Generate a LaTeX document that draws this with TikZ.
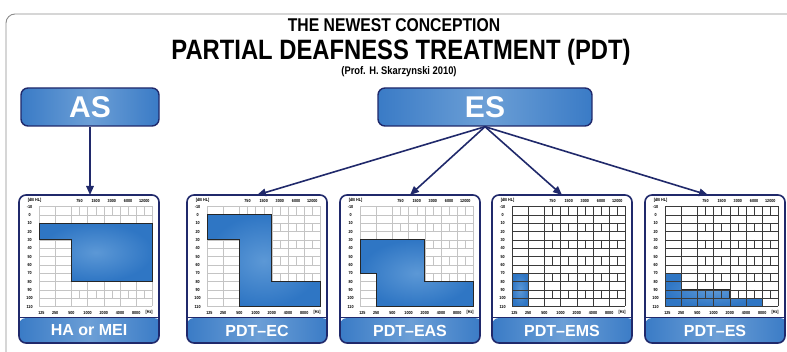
\documentclass[tikz,border=0pt]{standalone}
\usepackage{fontspec}
\setmainfont{Liberation Sans}
\newfontfamily\narrowfont[FakeStretch=0.85]{Liberation Sans}
\usetikzlibrary{arrows.meta}
\definecolor{navy}{HTML}{20296B}
\definecolor{bluedark}{HTML}{3A7BC6}
\definecolor{bluelight}{HTML}{6C9FD6}
\definecolor{filldark}{HTML}{2F76C4}
\definecolor{filllight}{HTML}{5C98D6}
\definecolor{framec}{HTML}{8C8C8C}
\definecolor{gridlight}{HTML}{C4C4C4}
\definecolor{griddark}{HTML}{3A3A3A}
\tikzset{
  topbox/.style={draw=navy, line width=1.4pt, rounded corners=7pt,
    left color=bluedark, right color=bluedark, middle color=bluelight,
    minimum height=38pt, text=white, inner sep=0pt,
    font=\bfseries\fontsize{30}{30}\selectfont},
  panel/.style={draw=navy, line width=1.6pt, rounded corners=7pt, fill=white,
    minimum width=140pt, minimum height=148pt, inner sep=0pt, outer sep=0pt,
    path picture={
      \shade[left color=bluedark, right color=bluedark, middle color=bluelight]
        ([yshift=-2pt]path picture bounding box.south west) rectangle
        ([yshift=25pt,xshift=2pt]path picture bounding box.south east);
      \draw[navy, line width=1pt]
        ([yshift=25pt]path picture bounding box.south west) --
        ([yshift=25pt]path picture bounding box.south east);
    }},
  bandlab/.style={text=white, inner sep=0pt, font=\bfseries\fontsize{16}{16}\selectfont},
  titlefont/.style={anchor=base, inner sep=0pt, font=\narrowfont\bfseries\fontsize{#1}{#1}\selectfont},
  alab/.style={inner sep=0pt, font=\narrowfont\bfseries\fontsize{4.4}{5}\selectfont},
  afill/.style={draw=black!85, line width=0.8pt, inner color=filllight, outer color=filldark},
  lightgrid/.style={gridlight, line width=0.4pt},
  darkgrid/.style={griddark, line width=0.5pt},
  conn/.style={navy, line width=1.6pt, -{Triangle[length=9pt,width=7.5pt]}}
}
\newcommand{\agrid}[1]{%
  \foreach \d in {-10,0,...,110} \draw[#1] (0,\d) -- (7,\d);
  \foreach \o in {0,...,7} \draw[#1] (\o,-10) -- (\o,110);
  \foreach \d in {-10,10,...,90} \foreach \o in {2.5,3.5,...,6.5} \draw[#1] (\o,\d) -- (\o,\d+10);
}
\newcommand{\alabels}[1]{%
  \foreach \d [count=\i] in {-10,0,...,110} \node[alab] (#1y\i) at (-0.58,\d) {\d};
  \node[alab] (#1unit) at (-0.27,-17.2) {[dB HL]};
  \foreach \o/\t [count=\i] in {2.5/750,3.5/1500,4.5/3000,5.5/6000,6.5/12000}
    \node[alab] (#1t\i) at (\o,-17.2) {\t};
  \foreach \o/\t [count=\i] in {0.15/125,1/250,2/500,3/1000,4/2000,5/4000,6/8000,6.8/{[Hz]}}
    \node[alab] (#1b\i) at (\o,117.4) {\t};
}
\begin{document}
\begin{tikzpicture}[x=1pt,y=-1pt]
\useasboundingbox (0,0) rectangle (787,352);
\fill[white] (0,0) rectangle (787,352);
\begin{scope}
  \clip (0,0) rectangle (787,352);
  \draw[framec, line width=0.9pt, rounded corners=9pt] (6,14) rectangle (840,420);
\end{scope}

% titles
\node[titlefont=18.5] (t1) at (394,32) {THE NEWEST CONCEPTION};
\node[titlefont=28] (t2) at (401,59.5) {PARTIAL DEAFNESS TREATMENT (PDT)};
\node[titlefont=11] (t3) at (399,74.5) {(Prof. H. Skarzynski 2010)};

% top boxes
\node[topbox, minimum width=138pt] (AS) at (90,107) {AS};
\node[topbox, minimum width=214pt] (ES) at (485,107) {ES};

% panels
\node[panel] (p1) at (89,269) {};
\node[panel] (p2) at (257,269) {};
\node[panel] (p3) at (410,269) {};
\node[panel] (p4) at (562,269) {};
\node[panel] (p5) at (715,269) {};

\node[bandlab] (b1) at (89,330.5) {HA or MEI};
\node[bandlab] (b2) at (257,330.5) {PDT–EC};
\node[bandlab] (b3) at (410,330.5) {PDT–EAS};
\node[bandlab] (b4) at (562,330.5) {PDT–EMS};
\node[bandlab] (b5) at (715,330.5) {PDT–ES};

% audiograms
\begin{scope}[shift={(39,214.83)}, x=16.2pt, y=-0.8333pt]
  \agrid{lightgrid}
  \path[afill] (0,10) -- (7,10) -- (7,80) -- (2,80) -- (2,30) -- (0,30) -- cycle;
  \alabels{a}
\end{scope}
\begin{scope}[shift={(207,214.83)}, x=16.2pt, y=-0.8333pt]
  \agrid{lightgrid}
  \path[afill] (0,0) -- (4,0) -- (4,80) -- (7,80) -- (7,110) -- (2,110) -- (2,30) -- (0,30) -- cycle;
  \alabels{b}
\end{scope}
\begin{scope}[shift={(360,214.83)}, x=16.2pt, y=-0.8333pt]
  \agrid{lightgrid}
  \path[afill] (0,30) -- (4,30) -- (4,80) -- (7,80) -- (7,110) -- (1,110) -- (1,70) -- (0,70) -- cycle;
  \alabels{c}
\end{scope}
\begin{scope}[shift={(512,214.83)}, x=16.2pt, y=-0.8333pt]
  \path[afill] (0,70) rectangle (1,110);
  \agrid{darkgrid}
  \alabels{d}
\end{scope}
\begin{scope}[shift={(665,214.83)}, x=16.2pt, y=-0.8333pt]
  \path[afill] (0,70) -- (1,70) -- (1,90) -- (4,90) -- (4,100) -- (6,100) -- (6,110) -- (0,110) -- cycle;
  \agrid{darkgrid}
  \alabels{e}
\end{scope}

% connectors
\draw[conn] (AS.south) -- (AS.south |- p1.north);
\draw[conn] (ES.south) -- (p2.north);
\draw[conn] (ES.south) -- (p3.north);
\draw[conn] (ES.south) -- (p4.north);
\draw[conn] (ES.south) -- ([xshift=-7pt]p5.north);
\end{tikzpicture}
\end{document}
